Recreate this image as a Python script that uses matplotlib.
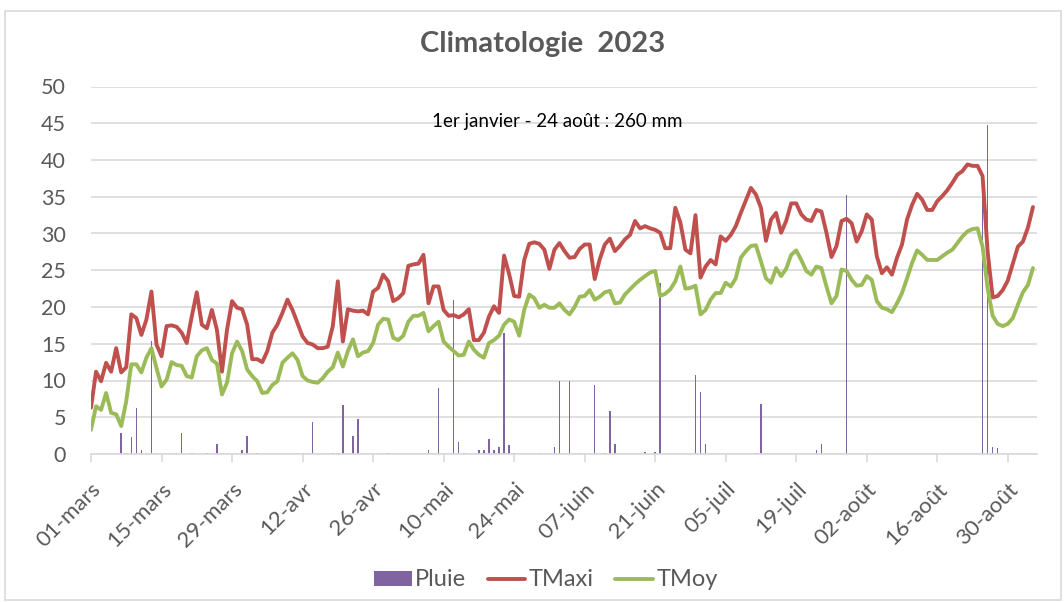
import matplotlib
matplotlib.use("Agg")
import matplotlib.pyplot as plt
from matplotlib.patches import Rectangle
import numpy as np

# daily values, day 0 = 01-mars (2023), last day = 04-sept
tmaxi = [6.3, 11.2, 9.9, 12.4, 11.2, 14.4, 11.1, 11.8, 19.0, 18.5,
         16.2, 18.3, 22.1, 14.9, 13.3, 17.4, 17.5, 17.3, 16.5, 15.1,
         18.7, 22.0, 17.6, 17.1, 19.6, 16.9, 11.2, 16.9, 20.8, 19.9,
         19.7, 17.6, 12.9, 12.9, 12.5, 14.0, 16.5, 17.6, 19.2, 21.0,
         19.6, 17.8, 16.0, 15.1, 14.9, 14.4, 14.4, 14.6, 17.4, 23.5,
         15.3, 19.7, 19.5, 19.4, 19.5, 19.0, 22.1, 22.6, 24.4, 23.5,
         20.8, 21.2, 21.9, 25.6, 25.8, 25.9, 27.1, 20.5, 22.8, 22.8,
         19.6, 18.8, 18.9, 18.6, 19.0, 19.7, 15.5, 15.5, 16.5, 18.7,
         20.1, 19.2, 27.0, 24.5, 21.5, 21.4, 26.4, 28.6, 28.8, 28.6,
         27.8, 25.2, 27.8, 28.7, 27.6, 26.7, 26.8, 27.9, 28.5, 28.5,
         23.8, 26.5, 28.5, 29.3, 27.6, 28.3, 29.2, 29.8, 31.7, 30.7,
         31.0, 30.7, 30.5, 30.1, 28.0, 28.0, 33.5, 31.5, 27.8, 27.3,
         32.5, 24.0, 25.5, 26.4, 25.8, 29.6, 29.0, 29.8, 31.0, 32.8,
         34.5, 36.2, 35.3, 33.5, 29.0, 31.9, 32.8, 30.1, 31.7, 34.1,
         34.1, 32.6, 31.9, 31.7, 33.2, 33.0, 30.1, 26.8, 28.3, 31.7,
         32.0, 31.4, 28.9, 30.3, 32.6, 31.9, 26.9, 24.6, 25.4, 24.4,
         26.7, 28.5, 31.9, 33.9, 35.4, 34.6, 33.2, 33.2, 34.4, 35.1,
         35.9, 36.9, 38.0, 38.5, 39.4, 39.2, 39.2, 37.8, 27.5, 21.3,
         21.5, 22.3, 23.6, 25.9, 28.2, 28.9, 30.8, 33.6]

tmoy = [3.3, 6.5, 6.0, 8.3, 5.6, 5.4, 3.8, 7.2, 12.2, 12.2,
        11.1, 13.1, 14.4, 11.7, 9.2, 10.1, 12.5, 12.1, 12.0, 10.6,
        10.4, 13.3, 14.1, 14.4, 12.8, 12.3, 8.1, 9.7, 13.7, 15.3,
        14.0, 11.5, 10.6, 9.9, 8.3, 8.4, 9.4, 9.9, 12.4, 13.1,
        13.7, 12.8, 10.6, 10.0, 9.8, 9.7, 10.3, 11.2, 11.8, 13.8,
        11.9, 14.0, 15.6, 13.3, 13.8, 14.0, 15.1, 17.6, 18.4, 18.3,
        15.8, 15.5, 16.1, 18.0, 18.8, 18.8, 19.2, 16.7, 17.4, 18.0,
        15.3, 14.6, 14.0, 13.4, 13.5, 15.3, 14.2, 13.5, 13.1, 15.1,
        15.5, 16.1, 17.6, 18.3, 18.0, 16.1, 19.6, 21.7, 21.2, 19.9,
        20.3, 19.9, 19.9, 20.5, 19.6, 19.0, 20.0, 21.4, 21.5, 22.3,
        21.0, 21.4, 22.0, 22.2, 20.5, 20.6, 21.7, 22.4, 23.1, 23.7,
        24.2, 24.7, 24.9, 21.5, 21.8, 22.4, 23.5, 25.5, 22.5, 22.6,
        22.9, 19.0, 19.6, 21.0, 21.9, 21.9, 23.3, 22.8, 23.9, 26.7,
        27.6, 28.3, 28.4, 26.2, 23.9, 23.3, 25.3, 24.2, 25.2, 27.1,
        27.7, 26.4, 24.9, 24.4, 25.5, 25.3, 22.8, 20.5, 21.5, 25.1,
        24.9, 23.7, 22.9, 23.0, 24.2, 23.7, 20.8, 19.9, 19.7, 19.3,
        20.5, 21.9, 23.9, 26.0, 27.7, 27.1, 26.4, 26.4, 26.4, 26.9,
        27.4, 27.8, 28.7, 29.6, 30.3, 30.6, 30.7, 28.2, 22.5, 18.8,
        17.7, 17.4, 17.7, 18.5, 20.3, 22.0, 23.0, 25.3]

# rainy days (day offset from 01-mars) and rain in mm
pluie_jour = [6, 7, 8, 9, 10, 11, 12, 13, 17, 18, 20, 23, 25, 30, 31,
              33, 41, 42, 43, 44, 46, 48, 49, 50, 52, 53, 59, 67, 69, 72,
              73, 74, 77, 78, 79, 80, 81, 82, 83, 84, 89, 92, 93, 95, 97,
              100, 102, 103, 104, 110, 112, 113, 120, 121, 122, 132, 133,
              144, 145, 150, 177, 178, 179, 180]
pluie_mm = [2.9, 0.2, 2.3, 6.3, 0.6, 0.2, 15.4, 0.1, 0.1, 2.9, 0.1, 0.1, 1.3, 0.5, 2.4,
            0.1, 0.1, 0.2, 0.1, 4.4, 0.1, 0.1, 0.1, 6.6, 2.4, 4.8, 0.1, 0.6, 9.0, 21.0,
            1.6, 0.1, 0.5, 0.5, 2.0, 0.5, 1.0, 16.4, 1.2, 0.1, 0.1, 1.0, 10.0, 10.0, 0.1,
            9.4, 0.1, 5.8, 1.4, 0.3, 0.3, 23.2, 10.7, 8.4, 1.4, 0.1, 6.8,
            0.5, 1.4, 35.2, 38.1, 44.7, 1.0, 0.8]

tick_labels = ['01-mars', '15-mars', '29-mars', '12-avr', '26-avr', '10-mai',
               '24-mai', '07-juin', '21-juin', '05-juil', '19-juil', '02-août',
               '16-août', '30-août']

plt.rcParams['font.family'] = ['Lato', 'DejaVu Sans']
gray = '#595959'

fig = plt.figure(figsize=(10.64, 6.02), dpi=100)
ax = fig.add_axes([91/1064, 148/602, 946/1064, 367.5/602])

days = np.arange(len(tmaxi))
bars = ax.bar(pluie_jour, pluie_mm, width=0.3, color='#8064A2', label='Pluie', zorder=2)
l1, = ax.plot(days, tmaxi, color='#C0504D', lw=2.8, label='TMaxi', zorder=3,
              solid_joinstyle='round', solid_capstyle='round')
l2, = ax.plot(days, tmoy, color='#9BBB59', lw=2.8, label='TMoy', zorder=3,
              solid_joinstyle='round', solid_capstyle='round')

ax.set_ylim(0, 50)
ax.set_yticks(range(0, 51, 5))
ax.set_xlim(0, 187.8)
ax.set_xticks(np.arange(len(tick_labels)) * 14)
ax.set_xticklabels(tick_labels, rotation=45, ha='right', rotation_mode='anchor')

ax.grid(axis='y', color='#D9D9D9', lw=1.2, zorder=0)
ax.set_axisbelow(True)
for s in ['top', 'right', 'left']:
    ax.spines[s].set_visible(False)
ax.spines['bottom'].set_color('#D9D9D9')
ax.spines['bottom'].set_linewidth(1.2)
ax.tick_params(axis='y', length=0, pad=18, labelsize=15.5, labelcolor=gray)
ax.tick_params(axis='x', length=6, width=1.2, color='#D9D9D9', pad=12,
               labelsize=16, labelcolor=gray)

fig.text(543/1064, 1 - 44/602, 'Climatologie  2023', ha='center', va='center',
         fontsize=21, fontweight='bold', color=gray)
fig.text(557/1064, 1 - 122/602, '1er janvier - 24 août : 260 mm', ha='center',
         va='center', fontsize=13.5, color='black')

leg = fig.legend([bars, l1, l2], ['Pluie', 'TMaxi', 'TMoy'], loc='center',
                 bbox_to_anchor=(546/1064, 1 - 580/602), ncol=3,
                 frameon=False, fontsize=17, labelcolor=gray, handlelength=1.6,
                 handleheight=0.6, handletextpad=0.15, columnspacing=0.9)

fig.patches.append(Rectangle((5/1064, 2/602), 1056/1064, 589/602,
                             transform=fig.transFigure, fill=False,
                             edgecolor='#D9D9D9', lw=1.2))

fig.savefig('out.png', dpi=100)
